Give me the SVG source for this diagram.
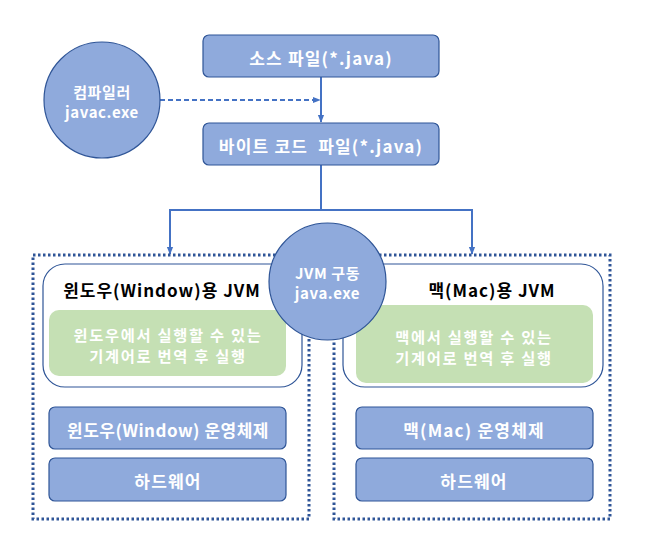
<svg xmlns="http://www.w3.org/2000/svg" width="646" height="549" viewBox="0 0 646 549">
<style>
.box{fill:#8faadc;stroke:#2f5597;stroke-width:1.2}
.jvm{fill:#ffffff;stroke:#2f5597;stroke-width:1.2}
.green{fill:#c5e0b4;stroke:none}
.dot{fill:none;stroke:#2f5597;stroke-width:3;stroke-dasharray:2.5 2.5}
.wt{font-family:"Noto Sans CJK KR","Noto Sans",sans-serif;font-weight:bold;fill:#ffffff;text-anchor:middle;dominant-baseline:central;font-size:17px;letter-spacing:1.2px}
.gt{font-size:15.3px;letter-spacing:1.7px}
.ct{font-size:15px;letter-spacing:0.6px}
.bt{font-family:"Noto Sans CJK KR","Noto Sans",sans-serif;font-weight:bold;fill:#000000;text-anchor:middle;dominant-baseline:central;font-size:17px;letter-spacing:1px}
.conn{fill:none;stroke:#4472c4;stroke-width:2}
</style>
<defs>
<marker id="arr2" viewBox="0 0 10 10" refX="9" refY="5" markerWidth="8" markerHeight="8" orient="auto" markerUnits="userSpaceOnUse">
<path d="M0,1 L10,5 L0,9 z" fill="#4472c4"/>
</marker>
</defs>
<rect width="646" height="549" fill="#ffffff"/>
<g id="connectors">
<line class="conn" x1="321" y1="77" x2="321" y2="122" marker-end="url(#arr2)"/>
<line class="conn" x1="160" y1="100" x2="320" y2="100" stroke-dasharray="5 3" marker-end="url(#arr2)"/>
<polyline class="conn" points="321,165 321,210 170,210 170,254" marker-end="url(#arr2)"/>
<polyline class="conn" points="321,210 472,210 472,254" marker-end="url(#arr2)"/>
</g>
<g id="left-platform">
<rect class="dot" x="33" y="255" width="276" height="264"/>
<g id="win-jvm">
<rect class="jvm" x="43" y="264" width="259" height="123" rx="22"/>
<text class="bt" x="162" y="289">윈도우(Window)용 JVM</text>
<rect class="green" x="49" y="310" width="237" height="66" rx="10"/>
<text class="wt gt" x="168" y="333.5">윈도우에서 실행할 수 있는</text>
<text class="wt gt" x="168" y="355">기계어로 번역 후 실행</text>
</g>
<g id="win-os">
<rect class="box" x="49" y="407" width="237" height="42" rx="6"/>
<text class="wt" x="168" y="429" style="letter-spacing:0.5px">윈도우(Window) 운영체제</text>
</g>
<g id="win-hw">
<rect class="box" x="49" y="458" width="237" height="43" rx="6"/>
<text class="wt" x="168" y="480">하드웨어</text>
</g>
</g>
<g id="right-platform">
<rect class="dot" x="334" y="255" width="276" height="264"/>
<g id="mac-jvm">
<rect class="jvm" x="343" y="264" width="260" height="123" rx="22"/>
<text class="bt" x="492" y="289">맥(Mac)용 JVM</text>
<rect class="green" x="356" y="305" width="237" height="78" rx="10"/>
<text class="wt gt" x="474" y="335.5">맥에서 실행할 수 있는</text>
<text class="wt gt" x="474" y="357">기계어로 번역 후 실행</text>
</g>
<g id="mac-os">
<rect class="box" x="356" y="407" width="237" height="42" rx="6"/>
<text class="wt" x="474" y="429">맥(Mac) 운영체제</text>
</g>
<g id="mac-hw">
<rect class="box" x="356" y="458" width="237" height="43" rx="6"/>
<text class="wt" x="474" y="480">하드웨어</text>
</g>
</g>
<g id="source">
<rect class="box" x="203" y="35" width="236" height="42" rx="6"/>
<text class="wt" x="321" y="57">소스 파일(*.java)</text>
</g>
<g id="bytecode">
<rect class="box" x="203" y="123" width="236" height="42" rx="6"/>
<text class="wt" x="321" y="145" xml:space="preserve" style="white-space:pre">바이트 코드  파일(*.java)</text>
</g>
<g id="compiler">
<circle class="box" cx="102" cy="100" r="58"/>
<text class="wt ct" x="102" y="91">컴파일러</text>
<text class="wt ct" x="102" y="111">javac.exe</text>
</g>
<g id="jvm-run">
<circle class="box" cx="327.5" cy="281.5" r="58.5"/>
<text class="wt ct" x="327.5" y="272">JVM 구동</text>
<text class="wt ct" x="327.5" y="292">java.exe</text>
</g>
</svg>
